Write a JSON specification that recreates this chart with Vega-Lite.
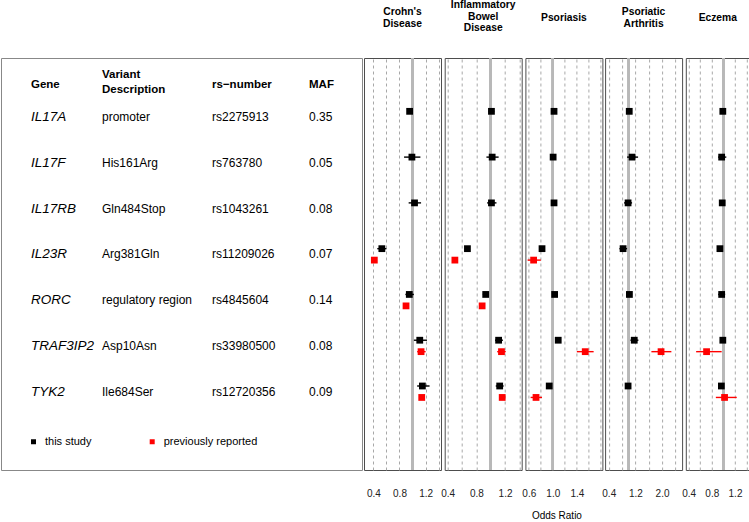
{
  "$schema": "https://vega.github.io/schema/vega-lite/v6.json",
  "padding": {"left": 0, "top": -1, "right": 0, "bottom": 0},
  "config": {
    "font": "Liberation Sans",
    "view": {"stroke": "#4d4d4d", "strokeWidth": 1},
    "title": {"fontSize": 10.3, "fontWeight": "bold", "lineHeight": 11.7, "baseline": "middle", "color": "#000", "anchor": "middle"},
    "axis": {"ticks": false, "tickSize": 0, "domain": false, "title": null, "labelFontSize": 10, "labelColor": "#222", "labelPadding": 18, "format": ".1f", "grid": true, "gridColor": "#a8a8a8", "gridDash": [3, 3], "gridWidth": 1, "labelFlush": false, "labelOverlap": false, "tickCount": 40}
  },
  "datasets": {
    "genes": [
      {"gene": "IL17A", "variant": "promoter", "rs": "rs2275913", "maf": "0.35"},
      {"gene": "IL17F", "variant": "His161Arg", "rs": "rs763780", "maf": "0.05"},
      {"gene": "IL17RB", "variant": "Gln484Stop", "rs": "rs1043261", "maf": "0.08"},
      {"gene": "IL23R", "variant": "Arg381Gln", "rs": "rs11209026", "maf": "0.07"},
      {"gene": "RORC", "variant": "regulatory region", "rs": "rs4845604", "maf": "0.14"},
      {"gene": "TRAF3IP2", "variant": "Asp10Asn", "rs": "rs33980500", "maf": "0.08"},
      {"gene": "TYK2", "variant": "Ile684Ser", "rs": "rs12720356", "maf": "0.09"}
    ],
    "header": [
      {"column": "Gene", "label": "Gene"},
      {"column": "Variant Description", "label": ["Variant", "Description"]},
      {"column": "rs−number", "label": "rs−number"},
      {"column": "MAF", "label": "MAF"}
    ],
    "or": [
      {"d": "Crohn's Disease", "gene": "IL17A", "source": "this study", "or": 0.955, "lo": 0.92, "hi": 0.99},
      {"d": "Crohn's Disease", "gene": "IL17F", "source": "this study", "or": 0.99, "lo": 0.87, "hi": 1.12},
      {"d": "Crohn's Disease", "gene": "IL17RB", "source": "this study", "or": 1.03, "lo": 0.94, "hi": 1.13},
      {"d": "Crohn's Disease", "gene": "IL23R", "source": "this study", "or": 0.53, "lo": 0.46, "hi": 0.60},
      {"d": "Crohn's Disease", "gene": "IL23R", "source": "previously reported", "or": 0.415, "lo": 0.39, "hi": 0.44},
      {"d": "Crohn's Disease", "gene": "RORC", "source": "this study", "or": 0.95, "lo": 0.89, "hi": 1.02},
      {"d": "Crohn's Disease", "gene": "RORC", "source": "previously reported", "or": 0.90, "lo": 0.87, "hi": 0.93},
      {"d": "Crohn's Disease", "gene": "TRAF3IP2", "source": "this study", "or": 1.11, "lo": 1.02, "hi": 1.22},
      {"d": "Crohn's Disease", "gene": "TRAF3IP2", "source": "previously reported", "or": 1.13, "lo": 1.07, "hi": 1.20},
      {"d": "Crohn's Disease", "gene": "TYK2", "source": "this study", "or": 1.15, "lo": 1.07, "hi": 1.26},
      {"d": "Crohn's Disease", "gene": "TYK2", "source": "previously reported", "or": 1.14, "lo": 1.11, "hi": 1.18},
      {"d": "Inflammatory Bowel Disease", "gene": "IL17A", "source": "this study", "or": 1.01, "lo": 0.97, "hi": 1.05},
      {"d": "Inflammatory Bowel Disease", "gene": "IL17F", "source": "this study", "or": 1.02, "lo": 0.94, "hi": 1.11},
      {"d": "Inflammatory Bowel Disease", "gene": "IL17RB", "source": "this study", "or": 1.01, "lo": 0.95, "hi": 1.08},
      {"d": "Inflammatory Bowel Disease", "gene": "IL23R", "source": "this study", "or": 0.675, "lo": 0.64, "hi": 0.71},
      {"d": "Inflammatory Bowel Disease", "gene": "IL23R", "source": "previously reported", "or": 0.50, "lo": 0.47, "hi": 0.53},
      {"d": "Inflammatory Bowel Disease", "gene": "RORC", "source": "this study", "or": 0.93, "lo": 0.89, "hi": 0.97},
      {"d": "Inflammatory Bowel Disease", "gene": "RORC", "source": "previously reported", "or": 0.88, "lo": 0.85, "hi": 0.91},
      {"d": "Inflammatory Bowel Disease", "gene": "TRAF3IP2", "source": "this study", "or": 1.11, "lo": 1.06, "hi": 1.17},
      {"d": "Inflammatory Bowel Disease", "gene": "TRAF3IP2", "source": "previously reported", "or": 1.15, "lo": 1.09, "hi": 1.21},
      {"d": "Inflammatory Bowel Disease", "gene": "TYK2", "source": "this study", "or": 1.125, "lo": 1.07, "hi": 1.18},
      {"d": "Inflammatory Bowel Disease", "gene": "TYK2", "source": "previously reported", "or": 1.16, "lo": 1.13, "hi": 1.19},
      {"d": "Psoriasis", "gene": "IL17A", "source": "this study", "or": 1.02, "lo": 0.98, "hi": 1.06},
      {"d": "Psoriasis", "gene": "IL17F", "source": "this study", "or": 1.005, "lo": 0.96, "hi": 1.05},
      {"d": "Psoriasis", "gene": "IL17RB", "source": "this study", "or": 1.02, "lo": 0.98, "hi": 1.06},
      {"d": "Psoriasis", "gene": "IL23R", "source": "this study", "or": 0.82, "lo": 0.78, "hi": 0.86},
      {"d": "Psoriasis", "gene": "IL23R", "source": "previously reported", "or": 0.68, "lo": 0.58, "hi": 0.80},
      {"d": "Psoriasis", "gene": "RORC", "source": "this study", "or": 1.03, "lo": 0.99, "hi": 1.07},
      {"d": "Psoriasis", "gene": "TRAF3IP2", "source": "this study", "or": 1.09, "lo": 1.05, "hi": 1.13},
      {"d": "Psoriasis", "gene": "TRAF3IP2", "source": "previously reported", "or": 1.54, "lo": 1.40, "hi": 1.68},
      {"d": "Psoriasis", "gene": "TYK2", "source": "this study", "or": 0.94, "lo": 0.90, "hi": 0.98},
      {"d": "Psoriasis", "gene": "TYK2", "source": "previously reported", "or": 0.72, "lo": 0.63, "hi": 0.82},
      {"d": "Psoriatic Arthritis", "gene": "IL17A", "source": "this study", "or": 1.015, "lo": 0.94, "hi": 1.09},
      {"d": "Psoriatic Arthritis", "gene": "IL17F", "source": "this study", "or": 1.10, "lo": 0.95, "hi": 1.28},
      {"d": "Psoriatic Arthritis", "gene": "IL17RB", "source": "this study", "or": 0.98, "lo": 0.86, "hi": 1.10},
      {"d": "Psoriatic Arthritis", "gene": "IL23R", "source": "this study", "or": 0.83, "lo": 0.72, "hi": 0.95},
      {"d": "Psoriatic Arthritis", "gene": "RORC", "source": "this study", "or": 1.02, "lo": 0.94, "hi": 1.10},
      {"d": "Psoriatic Arthritis", "gene": "TRAF3IP2", "source": "this study", "or": 1.165, "lo": 1.05, "hi": 1.29},
      {"d": "Psoriatic Arthritis", "gene": "TRAF3IP2", "source": "previously reported", "or": 1.97, "lo": 1.68, "hi": 2.28},
      {"d": "Psoriatic Arthritis", "gene": "TYK2", "source": "this study", "or": 0.98, "lo": 0.90, "hi": 1.06},
      {"d": "Eczema", "gene": "IL17A", "source": "this study", "or": 0.99, "lo": 0.95, "hi": 1.03},
      {"d": "Eczema", "gene": "IL17F", "source": "this study", "or": 0.97, "lo": 0.91, "hi": 1.05},
      {"d": "Eczema", "gene": "IL17RB", "source": "this study", "or": 0.98, "lo": 0.94, "hi": 1.02},
      {"d": "Eczema", "gene": "IL23R", "source": "this study", "or": 0.94, "lo": 0.90, "hi": 0.98},
      {"d": "Eczema", "gene": "RORC", "source": "this study", "or": 0.97, "lo": 0.91, "hi": 1.03},
      {"d": "Eczema", "gene": "TRAF3IP2", "source": "this study", "or": 0.99, "lo": 0.95, "hi": 1.03},
      {"d": "Eczema", "gene": "TRAF3IP2", "source": "previously reported", "or": 0.71, "lo": 0.53, "hi": 0.97},
      {"d": "Eczema", "gene": "TYK2", "source": "this study", "or": 0.965, "lo": 0.93, "hi": 1.00},
      {"d": "Eczema", "gene": "TYK2", "source": "previously reported", "or": 1.02, "lo": 0.87, "hi": 1.23}
    ]
  },
  "spacing": 0,
  "hconcat": [
    {
      "width": 361,
      "height": 412,
      "view": {"stroke": "#888888"},
      "layer": [
        {
          "data": {"name": "genes"},
          "mark": {"type": "text", "align": "left", "baseline": "middle", "fontSize": 13.5, "fontStyle": "italic", "color": "#000"},
          "encoding": {
            "x": {"datum": "Gene", "type": "nominal", "scale": {"type": "point", "domain": ["Gene", "Variant Description", "rs−number", "MAF"], "range": [30, 308], "padding": 0}, "axis": null},
            "y": {"field": "gene", "type": "nominal", "scale": {"type": "band", "domain": ["IL17A", "IL17F", "IL17RB", "IL23R", "RORC", "TRAF3IP2", "TYK2"], "paddingInner": 0, "paddingOuter": 1.078, "align": 0.395}, "axis": null},
            "text": {"field": "gene"}
          }
        },
        {
          "data": {"name": "genes"},
          "mark": {"type": "text", "align": "left", "baseline": "middle", "fontSize": 12, "dx": -21.7, "color": "#000"},
          "encoding": {"x": {"datum": "Variant Description", "type": "nominal"}, "y": {"field": "gene", "type": "nominal"}, "text": {"field": "variant"}}
        },
        {
          "data": {"name": "genes"},
          "mark": {"type": "text", "align": "left", "baseline": "middle", "fontSize": 12, "dx": -4.3, "color": "#000"},
          "encoding": {"x": {"datum": "rs−number", "type": "nominal"}, "y": {"field": "gene", "type": "nominal"}, "text": {"field": "rs"}}
        },
        {
          "data": {"name": "genes"},
          "mark": {"type": "text", "align": "left", "baseline": "middle", "fontSize": 12, "color": "#000"},
          "encoding": {"x": {"datum": "MAF", "type": "nominal"}, "y": {"field": "gene", "type": "nominal"}, "text": {"field": "maf"}}
        },
        {
          "data": {"name": "header"},
          "transform": [{"filter": "datum.column === 'Gene' || datum.column === 'MAF'"}],
          "mark": {"type": "text", "align": "left", "baseline": "middle", "fontSize": 11.5, "fontWeight": "bold", "dy": -31.7, "color": "#000"},
          "encoding": {"x": {"field": "column", "type": "nominal"}, "y": {"datum": "IL17A", "type": "nominal"}, "text": {"field": "label"}}
        },
        {
          "data": {"name": "header"},
          "transform": [{"filter": "datum.column === 'Variant Description'"}],
          "mark": {"type": "text", "align": "left", "baseline": "middle", "fontSize": 11.5, "fontWeight": "bold", "dy": -41.7, "dx": -21.7, "lineHeight": 15, "color": "#000"},
          "encoding": {"x": {"field": "column", "type": "nominal"}, "y": {"datum": "IL17A", "type": "nominal"}, "text": {"field": "label"}}
        },
        {
          "data": {"name": "header"},
          "transform": [{"filter": "datum.column === 'rs−number'"}],
          "mark": {"type": "text", "align": "left", "baseline": "middle", "fontSize": 11.5, "fontWeight": "bold", "dy": -31.7, "dx": -4.3, "color": "#000"},
          "encoding": {"x": {"field": "column", "type": "nominal"}, "y": {"datum": "IL17A", "type": "nominal"}, "text": {"field": "label"}}
        }
      ]
    },
    {
      "spacing": -2.3,
      "title": {"text": "Odds Ratio", "orient": "bottom", "fontWeight": "normal", "fontSize": 10, "baseline": "top", "offset": 12, "anchor": "middle", "color": "#000"},
      "hconcat": [
        {
          "width": 77, "height": 412,
          "title": {"text": ["Crohn's", "Disease"], "offset": 27.8},
          "data": {"name": "or"},
          "transform": [{"filter": {"field": "d", "equal": "Crohn's Disease"}}],
          "encoding": {
            "y": {"field": "gene", "type": "nominal", "scale": {"domain": ["IL17A", "IL17F", "IL17RB", "IL23R", "RORC", "TRAF3IP2", "TYK2"], "paddingInner": 0, "paddingOuter": 1.078, "align": 0.395}, "axis": null},
            "yOffset": {"field": "source", "type": "nominal", "scale": {"domain": ["this study", "previously reported"], "paddingInner": 0, "paddingOuter": 1.5}}
          },
          "layer": [
            {"mark": {"type": "rule", "color": "#b8b8b8", "strokeWidth": 2.2}, "encoding": {"x": {"datum": 1, "type": "quantitative", "scale": {"domain": [0.257, 1.435], "nice": false, "zero": false}, "axis": {"values": [0.4, 0.6, 0.8, 1.2, 1.4], "labelExpr": "datum.value == 0.4 || datum.value == 0.8 || datum.value == 1.2 ? datum.label : ''"}}, "y": null, "yOffset": null}},
            {"mark": {"type": "point", "shape": "square", "filled": true, "size": 46, "opacity": 1, "strokeWidth": 0}, "encoding": {"x": {"field": "or", "type": "quantitative"}, "color": {"field": "source", "type": "nominal", "scale": {"domain": ["this study", "previously reported"], "range": ["#000000", "#ff0000"]}, "legend": {"orient": "none", "legendX": 27, "legendY": 378, "direction": "horizontal", "title": null, "symbolType": "square", "symbolSize": 25, "symbolStrokeWidth": 0, "labelFontSize": 11, "labelOffset": 6, "columnPadding": 54.7, "labelColor": "#000"}}}},
            {"mark": {"type": "rule", "strokeWidth": 1.4}, "encoding": {"x": {"field": "lo", "type": "quantitative"}, "x2": {"field": "hi"}, "color": {"field": "source", "type": "nominal"}}}
          ]
        },
        {
          "width": 77, "height": 412,
          "title": {"text": ["Inflammatory", "Bowel", "Disease"], "offset": 23.2},
          "data": {"name": "or"},
          "transform": [{"filter": {"field": "d", "equal": "Inflammatory Bowel Disease"}}],
          "encoding": {
            "y": {"field": "gene", "type": "nominal", "scale": {"domain": ["IL17A", "IL17F", "IL17RB", "IL23R", "RORC", "TRAF3IP2", "TYK2"], "paddingInner": 0, "paddingOuter": 1.078, "align": 0.395}, "axis": null},
            "yOffset": {"field": "source", "type": "nominal", "scale": {"domain": ["this study", "previously reported"], "paddingInner": 0, "paddingOuter": 1.5}}
          },
          "layer": [
            {"mark": {"type": "rule", "color": "#b8b8b8", "strokeWidth": 2.2}, "encoding": {"x": {"datum": 1, "type": "quantitative", "scale": {"domain": [0.358, 1.432], "nice": false, "zero": false}, "axis": {"values": [0.4, 0.6, 0.8, 1.2, 1.4], "labelExpr": "datum.value == 0.4 || datum.value == 0.8 || datum.value == 1.2 ? datum.label : ''"}}, "y": null, "yOffset": null}},
            {"mark": {"type": "point", "shape": "square", "filled": true, "size": 46, "opacity": 1, "strokeWidth": 0}, "encoding": {"x": {"field": "or", "type": "quantitative"}, "color": {"field": "source", "type": "nominal", "scale": {"domain": ["this study", "previously reported"], "range": ["#000000", "#ff0000"]}, "legend": {"orient": "none", "legendX": 27, "legendY": 378, "direction": "horizontal", "title": null, "symbolType": "square", "symbolSize": 25, "symbolStrokeWidth": 0, "labelFontSize": 11, "labelOffset": 6, "columnPadding": 54.7, "labelColor": "#000"}}}},
            {"mark": {"type": "rule", "strokeWidth": 1.4}, "encoding": {"x": {"field": "lo", "type": "quantitative"}, "x2": {"field": "hi"}, "color": {"field": "source", "type": "nominal"}}}
          ]
        },
        {
          "width": 77, "height": 412,
          "title": {"text": "Psoriasis", "offset": 33.8},
          "data": {"name": "or"},
          "transform": [{"filter": {"field": "d", "equal": "Psoriasis"}}],
          "encoding": {
            "y": {"field": "gene", "type": "nominal", "scale": {"domain": ["IL17A", "IL17F", "IL17RB", "IL23R", "RORC", "TRAF3IP2", "TYK2"], "paddingInner": 0, "paddingOuter": 1.078, "align": 0.395}, "axis": null},
            "yOffset": {"field": "source", "type": "nominal", "scale": {"domain": ["this study", "previously reported"], "paddingInner": 0, "paddingOuter": 1.5}}
          },
          "layer": [
            {"mark": {"type": "rule", "color": "#b8b8b8", "strokeWidth": 2.2}, "encoding": {"x": {"datum": 1, "type": "quantitative", "scale": {"domain": [0.543, 1.826], "nice": false, "zero": false}, "axis": {"values": [0.6, 0.8, 1.0, 1.2, 1.4, 1.6, 1.8], "labelExpr": "datum.value == 0.6 || datum.value == 1.0 || datum.value == 1.4 ? datum.label : ''"}}, "y": null, "yOffset": null}},
            {"mark": {"type": "point", "shape": "square", "filled": true, "size": 46, "opacity": 1, "strokeWidth": 0}, "encoding": {"x": {"field": "or", "type": "quantitative"}, "color": {"field": "source", "type": "nominal", "scale": {"domain": ["this study", "previously reported"], "range": ["#000000", "#ff0000"]}, "legend": {"orient": "none", "legendX": 27, "legendY": 378, "direction": "horizontal", "title": null, "symbolType": "square", "symbolSize": 25, "symbolStrokeWidth": 0, "labelFontSize": 11, "labelOffset": 6, "columnPadding": 54.7, "labelColor": "#000"}}}},
            {"mark": {"type": "rule", "strokeWidth": 1.4}, "encoding": {"x": {"field": "lo", "type": "quantitative"}, "x2": {"field": "hi"}, "color": {"field": "source", "type": "nominal"}}}
          ]
        },
        {
          "width": 77, "height": 412,
          "title": {"text": ["Psoriatic", "Arthritis"], "offset": 27.8},
          "data": {"name": "or"},
          "transform": [{"filter": {"field": "d", "equal": "Psoriatic Arthritis"}}],
          "encoding": {
            "y": {"field": "gene", "type": "nominal", "scale": {"domain": ["IL17A", "IL17F", "IL17RB", "IL23R", "RORC", "TRAF3IP2", "TYK2"], "paddingInner": 0, "paddingOuter": 1.078, "align": 0.395}, "axis": null},
            "yOffset": {"field": "source", "type": "nominal", "scale": {"domain": ["this study", "previously reported"], "paddingInner": 0, "paddingOuter": 1.5}}
          },
          "layer": [
            {"mark": {"type": "rule", "color": "#b8b8b8", "strokeWidth": 2.2}, "encoding": {"x": {"datum": 1, "type": "quantitative", "scale": {"domain": [0.29, 2.602], "nice": false, "zero": false}, "axis": {"values": [0.4, 0.8, 1.2, 1.6, 2.0, 2.4], "labelExpr": "datum.value == 0.4 || datum.value == 1.2 || datum.value == 2.0 ? datum.label : ''"}}, "y": null, "yOffset": null}},
            {"mark": {"type": "point", "shape": "square", "filled": true, "size": 46, "opacity": 1, "strokeWidth": 0}, "encoding": {"x": {"field": "or", "type": "quantitative"}, "color": {"field": "source", "type": "nominal", "scale": {"domain": ["this study", "previously reported"], "range": ["#000000", "#ff0000"]}, "legend": {"orient": "none", "legendX": 27, "legendY": 378, "direction": "horizontal", "title": null, "symbolType": "square", "symbolSize": 25, "symbolStrokeWidth": 0, "labelFontSize": 11, "labelOffset": 6, "columnPadding": 54.7, "labelColor": "#000"}}}},
            {"mark": {"type": "rule", "strokeWidth": 1.4}, "encoding": {"x": {"field": "lo", "type": "quantitative"}, "x2": {"field": "hi"}, "color": {"field": "source", "type": "nominal"}}}
          ]
        },
        {
          "width": 64, "height": 412,
          "title": {"text": "Eczema", "offset": 33.8},
          "data": {"name": "or"},
          "transform": [{"filter": {"field": "d", "equal": "Eczema"}}],
          "encoding": {
            "y": {"field": "gene", "type": "nominal", "scale": {"domain": ["IL17A", "IL17F", "IL17RB", "IL23R", "RORC", "TRAF3IP2", "TYK2"], "paddingInner": 0, "paddingOuter": 1.078, "align": 0.395}, "axis": null},
            "yOffset": {"field": "source", "type": "nominal", "scale": {"domain": ["this study", "previously reported"], "paddingInner": 0, "paddingOuter": 1.5}}
          },
          "layer": [
            {"mark": {"type": "rule", "color": "#b8b8b8", "strokeWidth": 2.2}, "encoding": {"x": {"datum": 1, "type": "quantitative", "scale": {"domain": [0.352, 1.455], "nice": false, "zero": false}, "axis": {"values": [0.4, 0.6, 0.8, 1.2, 1.4], "labelExpr": "datum.value == 0.4 || datum.value == 0.8 || datum.value == 1.2 ? datum.label : ''"}}, "y": null, "yOffset": null}},
            {"mark": {"type": "point", "shape": "square", "filled": true, "size": 46, "opacity": 1, "strokeWidth": 0}, "encoding": {"x": {"field": "or", "type": "quantitative"}, "color": {"field": "source", "type": "nominal", "scale": {"domain": ["this study", "previously reported"], "range": ["#000000", "#ff0000"]}, "legend": {"orient": "none", "legendX": 27, "legendY": 378, "direction": "horizontal", "title": null, "symbolType": "square", "symbolSize": 25, "symbolStrokeWidth": 0, "labelFontSize": 11, "labelOffset": 6, "columnPadding": 54.7, "labelColor": "#000"}}}},
            {"mark": {"type": "rule", "strokeWidth": 1.4}, "encoding": {"x": {"field": "lo", "type": "quantitative"}, "x2": {"field": "hi"}, "color": {"field": "source", "type": "nominal"}}}
          ]
        }
      ]
    }
  ]
}
